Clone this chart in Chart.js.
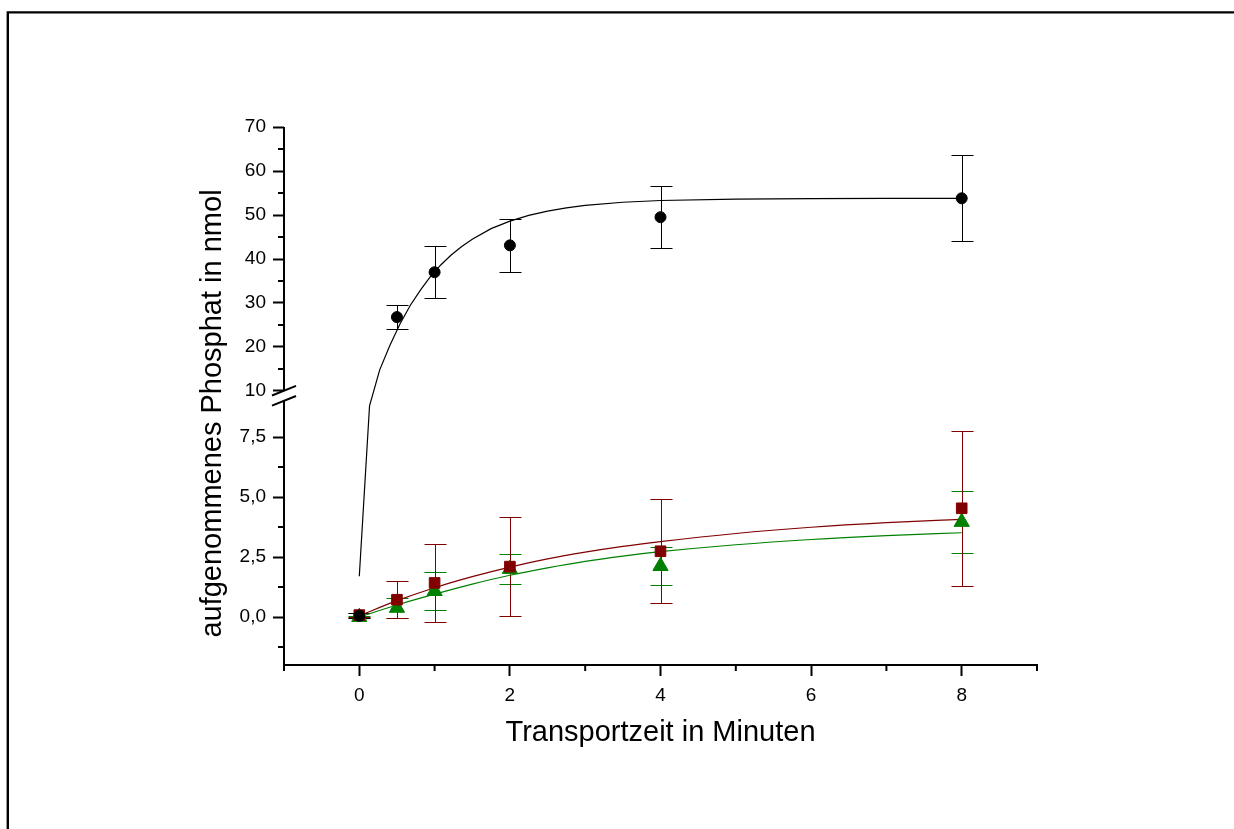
<!DOCTYPE html>
<html>
<head>
<meta charset="utf-8">
<script src="https://cdn.jsdelivr.net/npm/chart.js@4.4.0/dist/chart.umd.min.js"></script>
<style>
  html, body { margin: 0; padding: 0; background: #fff; }
</style>
</head>
<body>
<canvas id="chart" width="1234" height="829"></canvas>
<script>
// Messzeitpunkte (Minuten)
const times = [0, 0.5, 1, 2, 4, 8];

// Mittelwerte und Fehler (nmol)
const blackMean = [0.05, 26.8, 37.0, 43.1, 49.5, 53.8];
const blackErr  = [0.1, 2.75, 5.9, 6.05, 7.0, 9.8];
const redMean   = [0.08, 0.72, 1.42, 2.1, 2.74, 4.53];
const redErr    = [0.1, 0.78, 1.62, 2.05, 2.17, 3.22];
const greenMean = [0.0, 0.38, 1.08, 2.0, 2.12, 3.96];
const greenErr  = [0.05, 0.43, 0.8, 0.64, 0.8, 1.29];

// Fitkurven
const blackFitX = [0, 0.136, 0.271, 0.407, 0.542, 0.678, 0.814, 0.949, 1.085, 1.22, 1.356, 1.5, 1.75, 2, 2.25, 2.5, 2.75, 3, 3.5, 4, 5, 6, 7, 8];
const blackFitY = [1.7, 8.8, 14.8, 20.4, 25.3, 29.5, 33.0, 36.1, 38.7, 40.9, 42.8, 44.5, 46.9, 48.6, 49.9, 50.9, 51.6, 52.2, 52.9, 53.3, 53.6, 53.7, 53.8, 53.8];
const fitX      = [0, 0.5, 1, 1.5, 2, 2.5, 3, 3.5, 4, 5, 6, 7, 8];
const redFitY   = [0.05, 0.68, 1.22, 1.68, 2.08, 2.42, 2.7, 2.94, 3.14, 3.48, 3.74, 3.93, 4.07];
const greenFitY = [0, 0.5, 0.95, 1.37, 1.74, 2.05, 2.32, 2.54, 2.72, 3.01, 3.23, 3.39, 3.51];

// Achsen
const xTicks = [0, 2, 4, 6, 8];
const xMinor = [-1, 1, 3, 5, 7, 9];
const yTicks = [0, 2.5, 5, 7.5, 10, 20, 30, 40, 50, 60, 70];
const yTickLabels = ['0,0', '2,5', '5,0', '7,5', '10', '20', '30', '40', '50', '60', '70'];
const yMinor = [-1.25, 1.25, 3.75, 6.25, 15, 25, 35, 45, 55, 65];

const FONT = '"Liberation Sans", Arial, sans-serif';
const DARKRED = '#800000';
const GREEN = '#008000';

// Achsenbruch: unten 1:1, oben gestaucht
const Y_LOW_TOP = 9;
const Y_HIGH_BOTTOM = 10;
const Y_HIGH_SHIFT = 9.417;
const Y_HIGH_FACTOR = 0.18333;

function foldY(v) {
    if (v === null || v <= Y_LOW_TOP) return v;
    if (v >= Y_HIGH_BOTTOM) return Y_HIGH_SHIFT + (v - Y_HIGH_BOTTOM) * Y_HIGH_FACTOR;
    return Y_LOW_TOP + (v - Y_LOW_TOP) * (Y_HIGH_SHIFT - Y_LOW_TOP) / (Y_HIGH_BOTTOM - Y_LOW_TOP);
}

class BrokenScale extends Chart.LinearScale {
    getPixelForValue(value) {
        return super.getPixelForValue(foldY(value));
    }
    buildTicks() {
        return yTicks.map(v => ({ value: v }));
    }
}
BrokenScale.id = 'broken';
BrokenScale.defaults = Chart.LinearScale.defaults;
Chart.register(BrokenScale);

const pts = (xs, ys) => xs.map((x, i) => ({ x: x, y: ys[i] }));

function drawErrorBars(chart, means, errs, color) {
    const { ctx, scales: { x, y } } = chart;
    ctx.save();
    ctx.strokeStyle = color;
    ctx.lineWidth = 1;
    times.forEach((t, i) => {
        const px = Math.round(x.getPixelForValue(t)) + 0.5;
        const top = Math.round(y.getPixelForValue(means[i] + errs[i])) + 0.5;
        const bot = Math.round(y.getPixelForValue(means[i] - errs[i])) + 0.5;
        ctx.beginPath();
        ctx.moveTo(px, top); ctx.lineTo(px, bot);
        ctx.moveTo(px - 11, top); ctx.lineTo(px + 11, top);
        ctx.moveTo(px - 11, bot); ctx.lineTo(px + 11, bot);
        ctx.stroke();
    });
    ctx.restore();
}

const decor = {
    id: 'decor',
    beforeDraw(chart) {
        const ctx = chart.ctx;
        ctx.save();
        ctx.strokeStyle = '#000';
        ctx.lineWidth = 2.4;
        ctx.beginPath();
        ctx.moveTo(7.8, chart.height);
        ctx.lineTo(7.8, 12.4);
        ctx.lineTo(chart.width, 12.4);
        ctx.stroke();
        ctx.restore();
    },
    beforeDatasetsDraw(chart) {
        drawErrorBars(chart, greenMean, greenErr, GREEN);
        drawErrorBars(chart, redMean, redErr, DARKRED);
        drawErrorBars(chart, blackMean, blackErr, '#000');
    },
    afterDraw(chart) {
        const { ctx, scales: { x, y }, chartArea } = chart;
        const left = chartArea.left;
        const upperEnd = y.getPixelForValue(Y_HIGH_BOTTOM) - 0.3;
        const lowerEnd = y.getPixelForValue(Y_LOW_TOP) - 0.2;
        ctx.save();
        ctx.strokeStyle = '#000';
        ctx.lineWidth = 2;

        // y-Achse mit Lücke
        ctx.beginPath();
        ctx.moveTo(left, chartArea.top);
        ctx.lineTo(left, upperEnd);
        ctx.moveTo(left, lowerEnd);
        ctx.lineTo(left, chartArea.bottom + 1);
        ctx.stroke();

        // Bruchzeichen
        [upperEnd, lowerEnd].forEach(c => {
            ctx.beginPath();
            ctx.moveTo(left - 12, c + 4.8);
            ctx.lineTo(left + 12, c - 4.8);
            ctx.stroke();
        });

        // Nebenstriche
        ctx.beginPath();
        xMinor.forEach(v => {
            const px = x.getPixelForValue(v);
            ctx.moveTo(px, chartArea.bottom);
            ctx.lineTo(px, chartArea.bottom + 6);
        });
        yMinor.forEach(v => {
            const py = y.getPixelForValue(v);
            ctx.moveTo(left - 6, py);
            ctx.lineTo(left, py);
        });
        ctx.stroke();

        // Achsentitel
        ctx.fillStyle = '#000';
        ctx.font = '29px ' + FONT;
        ctx.textAlign = 'center';
        ctx.textBaseline = 'alphabetic';
        ctx.fillText('Transportzeit in Minuten', (chartArea.left + chartArea.right) / 2, chartArea.bottom + 76);
        ctx.translate(220.5, 413.5);
        ctx.rotate(-Math.PI / 2);
        ctx.fillText('aufgenommenes Phosphat in nmol', 0, 0);
        ctx.restore();
    }
};

document.addEventListener("DOMContentLoaded", function() {
    const ctx = document.getElementById("chart").getContext("2d");

    const chart = new Chart(ctx, {
        type: "scatter",
        data: {
            datasets: [
                {
                    data: pts(times, blackMean),
                    pointStyle: 'circle',
                    pointRadius: 5.5,
                    backgroundColor: '#000',
                    borderColor: '#000',
                    borderWidth: 1
                },
                {
                    data: pts(times, redMean),
                    pointStyle: 'rect',
                    pointRadius: 7.5,
                    backgroundColor: DARKRED,
                    borderColor: DARKRED,
                    borderWidth: 1
                },
                {
                    data: pts(times, greenMean),
                    pointStyle: 'triangle',
                    pointRadius: 8.8,
                    backgroundColor: GREEN,
                    borderColor: GREEN,
                    borderWidth: 1
                },
                {
                    data: pts(blackFitX, blackFitY),
                    showLine: true,
                    pointRadius: 0,
                    borderColor: '#000',
                    borderWidth: 1.2,
                    tension: 0
                },
                {
                    data: pts(fitX, redFitY),
                    showLine: true,
                    pointRadius: 0,
                    borderColor: DARKRED,
                    borderWidth: 1.2,
                    cubicInterpolationMode: 'monotone'
                },
                {
                    data: pts(fitX, greenFitY),
                    showLine: true,
                    pointRadius: 0,
                    borderColor: GREEN,
                    borderWidth: 1.2,
                    cubicInterpolationMode: 'monotone'
                }
            ]
        },
        options: {
            responsive: false,
            animation: false,
            devicePixelRatio: 1,
            events: [],
            layout: {
                padding: { top: 127, right: 197, left: 0, bottom: 0 }
            },
            plugins: {
                legend: { display: false },
                tooltip: { enabled: false }
            },
            scales: {
                x: {
                    type: 'linear',
                    min: -1,
                    max: 9,
                    afterBuildTicks: axis => { axis.ticks = xTicks.map(v => ({ value: v })); },
                    afterFit: scale => { scale.height = 164; },
                    grid: {
                        drawOnChartArea: false,
                        tickLength: 11,
                        tickWidth: 2,
                        tickColor: '#000'
                    },
                    border: { display: true, color: '#000', width: 2 },
                    ticks: {
                        color: '#000',
                        font: { family: FONT, size: 19 },
                        padding: 8,
                        maxRotation: 0,
                        autoSkip: false,
                        callback: v => String(v)
                    }
                },
                y: {
                    type: 'broken',
                    min: -2,
                    max: 20.417,
                    afterFit: scale => { scale.width = 284; },
                    grid: {
                        drawOnChartArea: false,
                        tickLength: 11,
                        tickWidth: 2,
                        tickColor: '#000'
                    },
                    border: { display: false },
                    ticks: {
                        color: '#000',
                        font: { family: FONT, size: 19 },
                        padding: 7,
                        autoSkip: false,
                        callback: (v, i) => yTickLabels[i]
                    }
                }
            }
        },
        plugins: [decor]
    });
});
</script>
</body>
</html>
